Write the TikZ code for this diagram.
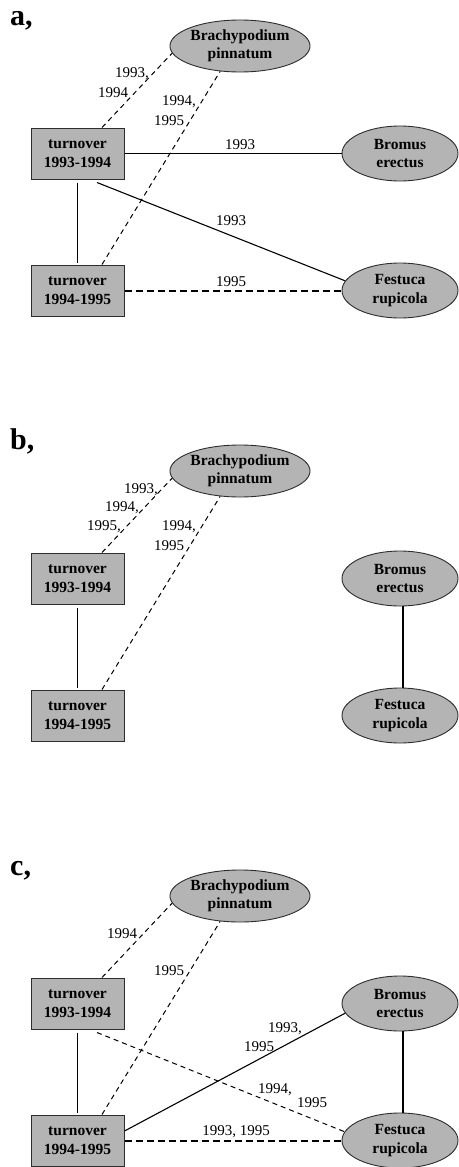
\documentclass[tikz,border=0pt]{standalone}
\usepackage{fontspec}
\setmainfont{Liberation Serif}
\usetikzlibrary{shapes.geometric}
\definecolor{nodegray}{RGB}{180,180,180}
\definecolor{edgegray}{RGB}{45,45,45}
\tikzset{
  turnbox/.style={draw=edgegray, line width=1pt, fill=nodegray, minimum width=93pt,
    minimum height=51pt, inner sep=0pt, align=center,
    font=\fontsize{15.5}{18.5}\selectfont\bfseries},
  species/.style={ellipse, draw=edgegray, line width=0.9pt, fill=nodegray,
    minimum width=116pt, minimum height=55pt, inner sep=0pt, align=center,
    font=\fontsize{15.5}{18.5}\selectfont\bfseries},
  brachy/.style={species, minimum width=117pt, minimum height=52pt},
  yearlbl/.style={font=\fontsize{15}{17}\selectfont, inner sep=0pt},
  panellbl/.style={font=\fontsize{30}{30}\selectfont\bfseries, anchor=base west, inner sep=0pt},
  solidedge/.style={line width=1.8pt},
  thinedge/.style={line width=1.1pt},
  thindash/.style={line width=1pt, dash pattern=on 5pt off 4pt},
  thickdash/.style={line width=2pt, dash pattern=on 7pt off 4pt},
}
\newcommand\PanelNodes[2]{%
  \node[brachy]  (#1b)  at (240,46+#2)    {Brachypodium\\pinnatum};
  \node[turnbox] (#1t1) at (77.5,153.5+#2) {turnover\\1993-1994};
  \node[turnbox] (#1t2) at (77.5,290.5+#2) {turnover\\1994-1995};
  \node[species] (#1br) at (400,153.5+#2) {Bromus\\erectus};
  \node[species] (#1f)  at (400,290.5+#2) {Festuca\\rupicola};
}
\begin{document}
\begin{tikzpicture}[x=1pt,y=-1pt]
\useasboundingbox (0,0) rectangle (458,1167);

% ---------------- panel a
\node[panellbl] (pa) at (10,25) {a,};
\PanelNodes{a}{0}
\draw[thindash] ([xshift=24.5pt]at1.north) -- (ab.186);
\draw[thindash] ([xshift=24.5pt]at2.north) -- (ab.232);
\draw[solidedge] (at1.east) -- (abr.west);
\draw[thinedge] ([xshift=19.5pt,yshift=-3pt]at1.south) -- (af.170);
\draw[solidedge] ([yshift=-3pt]at1.south) -- ([yshift=2pt]at2.north);
\draw[thickdash] (at2.east) -- (af.west);
\node[yearlbl] (al1) at (132,74) {1993,};
\node[yearlbl] (al2) at (113,93) {1994};
\node[yearlbl] (al3) at (179,102) {1994,};
\node[yearlbl] (al4) at (169,121) {1995};
\node[yearlbl] (al5) at (240,145) {1993};
\node[yearlbl] (al6) at (231,221) {1993};
\node[yearlbl] (al7) at (231,282) {1995};

% ---------------- panel b
\node[panellbl] (pb) at (10,449) {b,};
\PanelNodes{b}{425}
\draw[thindash] ([xshift=24.5pt]bt1.north) -- (bb.186);
\draw[thindash] ([xshift=24.5pt]bt2.north) -- (bb.232);
\draw[solidedge] ([yshift=-3pt]bt1.south) -- ([yshift=2pt]bt2.north);
\draw[solidedge] ([xshift=3pt]bbr.south) -- ([xshift=3pt]bf.north);
\node[yearlbl] (bl1) at (141,489.5) {1993,};
\node[yearlbl] (bl2) at (122,508) {1994,};
\node[yearlbl] (bl3) at (104,527) {1995,};
\node[yearlbl] (bl4) at (179,527) {1994,};
\node[yearlbl] (bl5) at (169,546) {1995};

% ---------------- panel c
\node[panellbl] (pc) at (10,875) {c,};
\PanelNodes{c}{850}
\draw[thindash] ([xshift=24.5pt]ct1.north) -- (cb.186);
\draw[thindash] ([xshift=24.5pt]ct2.north) -- (cb.232);
\draw[solidedge] ([yshift=-3pt]ct1.south) -- ([yshift=2pt]ct2.north);
\draw[thindash] ([xshift=19.5pt,yshift=-3pt]ct1.south) -- (cf.171);
\draw[thinedge] ([yshift=9.5pt]ct2.east) -- (cbr.190);
\draw[solidedge] ([xshift=3pt]cbr.south) -- ([xshift=3pt]cf.north);
\draw[thickdash] (ct2.east) -- (cf.west);
\node[yearlbl] (cl1) at (122,934) {1994};
\node[yearlbl] (cl2) at (169,971) {1995};
\node[yearlbl] (cl3) at (285,1029) {1993,};
\node[yearlbl] (cl4) at (259,1047) {1995};
\node[yearlbl] (cl5) at (275,1090) {1994,};
\node[yearlbl] (cl6) at (312,1103) {1995};
\node[yearlbl] (cl7) at (236,1132) {1993, 1995};
\end{tikzpicture}
\end{document}
